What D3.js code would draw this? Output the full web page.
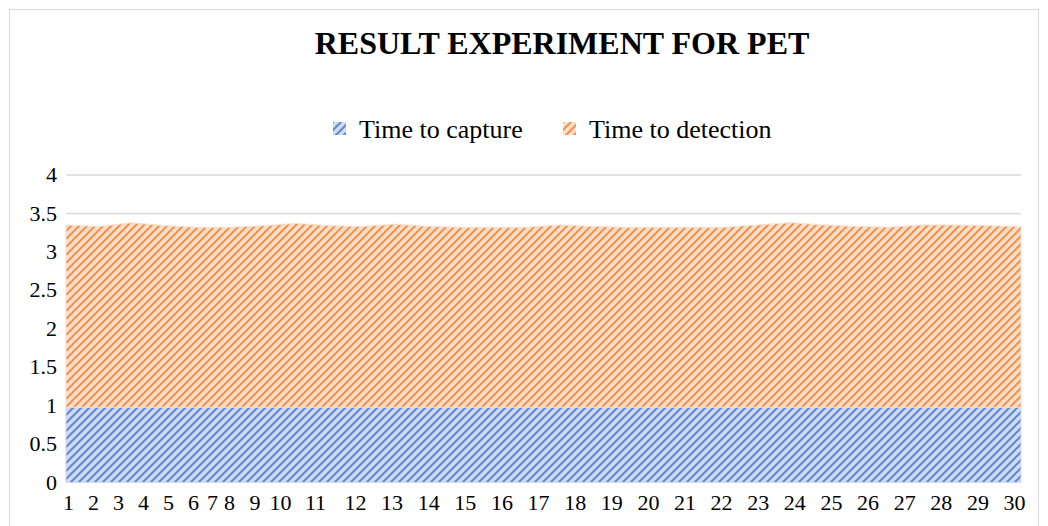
<!DOCTYPE html>
<html>
<head>
<meta charset="utf-8">
<script src="https://cdn.jsdelivr.net/npm/d3@7"></script>
<style>
  body { margin: 0; background: #fff; }
  svg { display: block; }
  svg text { font-family: "Liberation Serif", "Times New Roman", serif; }
</style>
</head>
<body>
<svg id="chart" width="1048" height="526"></svg>
<script>
// Data
const runs = d3.range(1, 31);
const timeToCapture = [
  0.98, 0.98, 0.98, 0.98, 0.98, 0.98, 0.98, 0.98, 0.98, 0.98,
  0.98, 0.98, 0.98, 0.98, 0.98, 0.98, 0.98, 0.98, 0.98, 0.98,
  0.98, 0.98, 0.98, 0.98, 0.98, 0.98, 0.98, 0.98, 0.98, 0.98
];
const timeToDetection = [
  2.37, 2.35, 2.40, 2.36, 2.34, 2.34, 2.36, 2.39, 2.36, 2.35,
  2.38, 2.35, 2.34, 2.34, 2.34, 2.37, 2.35, 2.34, 2.34, 2.34,
  2.34, 2.37, 2.40, 2.37, 2.35, 2.34, 2.37, 2.37, 2.36, 2.35
];
const seriesNames = ['Time to capture', 'Time to detection'];
const yTicks = [0, 0.5, 1, 1.5, 2, 2.5, 3, 3.5, 4];

// Settings
const COLORS = {
  capture: { light: '#cfdcf3', dark: '#4f7bcc' },
  detection: { light: '#fde0c9', dark: '#ef8540' }
};
const FONT = '"Liberation Serif", "Times New Roman", serif';
const margin = { top: 175, right: 27, bottom: 43.5, left: 66 };
const W = 1048;
const H = 526;
const width = W - margin.left - margin.right;
const height = H - margin.top - margin.bottom;

const svg = d3.select('#chart');

// Hatch patterns (wide upward diagonal)
const defs = svg.append('defs');
function hatch(id, c) {
  const p = defs.append('pattern')
    .attr('id', id)
    .attr('patternUnits', 'userSpaceOnUse')
    .attr('width', 8)
    .attr('height', 8);
  p.append('rect').attr('width', 8).attr('height', 8).attr('fill', c.light);
  p.append('path')
    .attr('d', 'M-2,2 L2,-2 M0,8 L8,0 M6,10 L10,6')
    .attr('stroke', c.dark)
    .attr('stroke-width', 2.2)
    .attr('opacity', 0.85);
}
hatch('hatch-capture', COLORS.capture);
hatch('hatch-detection', COLORS.detection);

// Chart frame
svg.append('rect')
  .attr('x', 9.5).attr('y', 9.5)
  .attr('width', 1029).attr('height', 540)
  .attr('fill', 'none')
  .attr('stroke', '#d9d9d9');

// Title
svg.append('text')
  .attr('x', 562)
  .attr('y', 54)
  .attr('text-anchor', 'middle')
  .style('font-family', FONT)
  .style('font-size', '32px')
  .style('font-weight', 'bold')
  .attr('fill', '#000')
  .text('RESULT EXPERIMENT FOR PET');

// Legend
const legendItems = [
  { name: seriesNames[0], fill: 'url(#hatch-capture)', x: 333 },
  { name: seriesNames[1], fill: 'url(#hatch-detection)', x: 563 }
];
const legend = svg.append('g').selectAll('g')
  .data(legendItems)
  .enter()
  .append('g')
  .attr('transform', d => `translate(${d.x},122)`);
legend.append('rect')
  .attr('width', 13).attr('height', 13)
  .attr('fill', d => d.fill);
legend.append('text')
  .attr('x', 26)
  .attr('y', 16)
  .style('font-family', FONT)
  .style('font-size', '26px')
  .attr('fill', '#000')
  .text(d => d.name);

const g = svg.append('g').attr('transform', `translate(${margin.left},${margin.top})`);

// Scales
const x = d3.scalePoint().domain(runs).range([0, width]);
const y = d3.scaleLinear().domain([0, 4]).range([height, 0]);

// Gridlines
g.append('g')
  .selectAll('line')
  .data(yTicks.filter(t => t > 0))
  .enter()
  .append('line')
  .attr('x1', 0).attr('x2', width)
  .attr('y1', d => y(d)).attr('y2', d => y(d))
  .attr('stroke', '#d9d9d9')
  .attr('stroke-width', 1.5);

// Stacked areas
const table = runs.map((r, i) => ({ run: r, capture: timeToCapture[i], detection: timeToDetection[i] }));
const stack = d3.stack().keys(['capture', 'detection']);
const layers = stack(table);
const area = d3.area()
  .x(d => x(d.data.run))
  .y0(d => y(d[0]))
  .y1(d => y(d[1]));

g.selectAll('.layer')
  .data(layers)
  .enter()
  .append('path')
  .attr('class', 'layer')
  .attr('d', area)
  .attr('fill', d => `url(#hatch-${d.key})`)
  .attr('stroke', d => COLORS[d.key].light)
  .attr('stroke-width', 1);

// Y axis labels
const yAxis = d3.axisLeft(y).tickValues(yTicks).tickSize(0).tickPadding(9).tickFormat(d3.format('~g'));
g.append('g')
  .call(yAxis)
  .attr('font-family', null)
  .call(s => s.select('.domain').remove())
  .call(s => s.selectAll('text')
    .style('font-family', FONT)
    .style('font-size', '22px')
    .attr('dy', '0.3em')
    .attr('fill', '#000'));

// X axis labels: the reference squeezes the first labels together
const xLabel = d3.scaleLinear()
  .domain([1, 6, 7, 8, 10, 11, 12, 30])
  .range([68, 193, 212, 229, 280, 315, 355, 1014].map(v => v - margin.left));
const xAxis = d3.axisBottom(xLabel).tickValues(runs).tickSize(0).tickPadding(12).tickFormat(d3.format('d'));
g.append('g')
  .attr('transform', `translate(0,${height})`)
  .call(xAxis)
  .attr('font-family', null)
  .call(s => s.select('.domain').remove())
  .call(s => s.selectAll('text')
    .style('font-family', FONT)
    .style('font-size', '22px')
    .attr('fill', '#000'));
</script>
</body>
</html>
